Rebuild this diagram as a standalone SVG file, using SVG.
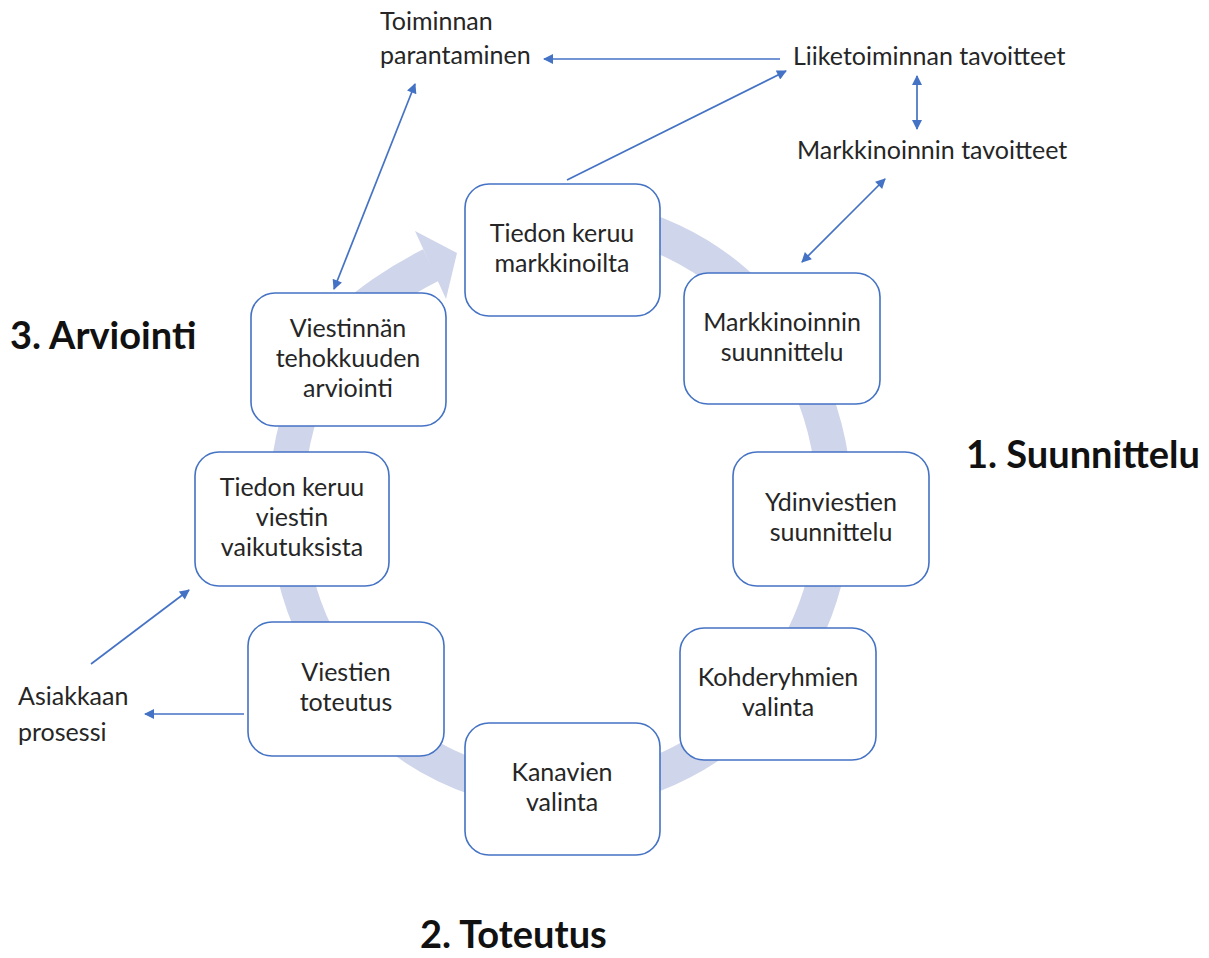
<svg xmlns="http://www.w3.org/2000/svg" width="1209" height="958" viewBox="0 0 1209 958">
  <defs>
    <marker id="arrow" viewBox="0 0 10 10" refX="9" refY="5" markerWidth="11" markerHeight="10" markerUnits="userSpaceOnUse" orient="auto-start-reverse">
      <path d="M0,0 L10,5 L0,10 z" fill="#4472C4"/>
    </marker>
    <style>
      .box { fill: #ffffff; stroke: #4472C4; stroke-width: 1.6; }
      .t { font-family: Lato, "Open Sans", sans-serif; font-size: 25px; fill: #262626; text-anchor: middle; }
      .lbl { font-family: Lato, "Open Sans", sans-serif; font-size: 25px; fill: #262626; }
      .phase { font-family: Lato, "Open Sans", sans-serif; font-size: 38px; font-weight: bold; fill: #111111; }
      .conn { stroke: #4472C4; stroke-width: 1.7; fill: none; }
      .ring { stroke: #CFD5EA; stroke-width: 35; fill: none; }
    </style>
  </defs>

  <!-- cycle band behind the steps -->
  <g id="cycle">
    <path class="ring" d="M560,216 A274,288 0 1 1 342,330 C359.6,305.7 404,278.5 431,265"/>
    <polygon points="415,231 457,253 446,299" fill="#CFD5EA"/>
  </g>

  <!-- connectors -->
  <g id="connectors">
    <line class="conn" x1="780" y1="59" x2="544" y2="59" marker-end="url(#arrow)"/>
    <line class="conn" x1="567" y1="180" x2="786" y2="71" marker-end="url(#arrow)"/>
    <line class="conn" x1="917" y1="76" x2="917" y2="129" marker-start="url(#arrow)" marker-end="url(#arrow)"/>
    <line class="conn" x1="885" y1="179" x2="802" y2="262" marker-start="url(#arrow)" marker-end="url(#arrow)"/>
    <line class="conn" x1="415" y1="84" x2="334" y2="289" marker-start="url(#arrow)" marker-end="url(#arrow)"/>
    <line class="conn" x1="91" y1="664" x2="189" y2="590" marker-end="url(#arrow)"/>
    <line class="conn" x1="244" y1="714" x2="145" y2="714" marker-end="url(#arrow)"/>
  </g>

  <!-- steps -->
  <g id="tiedon-keruu-markkinoilta">
    <rect class="box" x="465" y="184" width="195" height="132" rx="24"/>
    <text class="t" x="562" y="242">Tiedon keruu</text>
    <text class="t" x="562" y="272">markkinoilta</text>
  </g>
  <g id="markkinoinnin-suunnittelu">
    <rect class="box" x="684" y="273" width="196" height="131" rx="24"/>
    <text class="t" x="782" y="331">Markkinoinnin</text>
    <text class="t" x="782" y="361">suunnittelu</text>
  </g>
  <g id="ydinviestien-suunnittelu">
    <rect class="box" x="733" y="452" width="196" height="134" rx="24"/>
    <text class="t" x="831" y="511">Ydinviestien</text>
    <text class="t" x="831" y="541">suunnittelu</text>
  </g>
  <g id="kohderyhmien-valinta">
    <rect class="box" x="680" y="628" width="196" height="132" rx="24"/>
    <text class="t" x="778" y="686">Kohderyhmien</text>
    <text class="t" x="778" y="716">valinta</text>
  </g>
  <g id="kanavien-valinta">
    <rect class="box" x="465" y="723" width="195" height="132" rx="24"/>
    <text class="t" x="562" y="781">Kanavien</text>
    <text class="t" x="562" y="811">valinta</text>
  </g>
  <g id="viestien-toteutus">
    <rect class="box" x="248" y="622" width="196" height="134" rx="24"/>
    <text class="t" x="346" y="681">Viestien</text>
    <text class="t" x="346" y="711">toteutus</text>
  </g>
  <g id="tiedon-keruu-viestin-vaikutuksista">
    <rect class="box" x="195" y="452" width="194" height="134" rx="24"/>
    <text class="t" x="292" y="496">Tiedon keruu</text>
    <text class="t" x="292" y="526">viestin</text>
    <text class="t" x="292" y="556">vaikutuksista</text>
  </g>
  <g id="viestinnan-tehokkuuden-arviointi">
    <rect class="box" x="251" y="293" width="195" height="133" rx="24"/>
    <text class="t" x="348" y="337">Viestinnän</text>
    <text class="t" x="348" y="367">tehokkuuden</text>
    <text class="t" x="348" y="397">arviointi</text>
  </g>

  <!-- outside labels -->
  <g id="toiminnan-parantaminen">
    <text class="lbl" x="380" y="30">Toiminnan</text>
    <text class="lbl" x="380" y="64">parantaminen</text>
  </g>
  <g id="liiketoiminnan-tavoitteet">
    <text class="lbl" x="793" y="65">Liiketoiminnan tavoitteet</text>
  </g>
  <g id="markkinoinnin-tavoitteet">
    <text class="lbl" x="797" y="159">Markkinoinnin tavoitteet</text>
  </g>
  <g id="asiakkaan-prosessi">
    <text class="lbl" x="18" y="705">Asiakkaan</text>
    <text class="lbl" x="18" y="741">prosessi</text>
  </g>

  <!-- phase headings -->
  <g id="phases">
    <text class="phase" x="10" y="349">3. Arviointi</text>
    <text class="phase" x="966" y="468">1. Suunnittelu</text>
    <text class="phase" x="420" y="948">2. Toteutus</text>
  </g>
</svg>
